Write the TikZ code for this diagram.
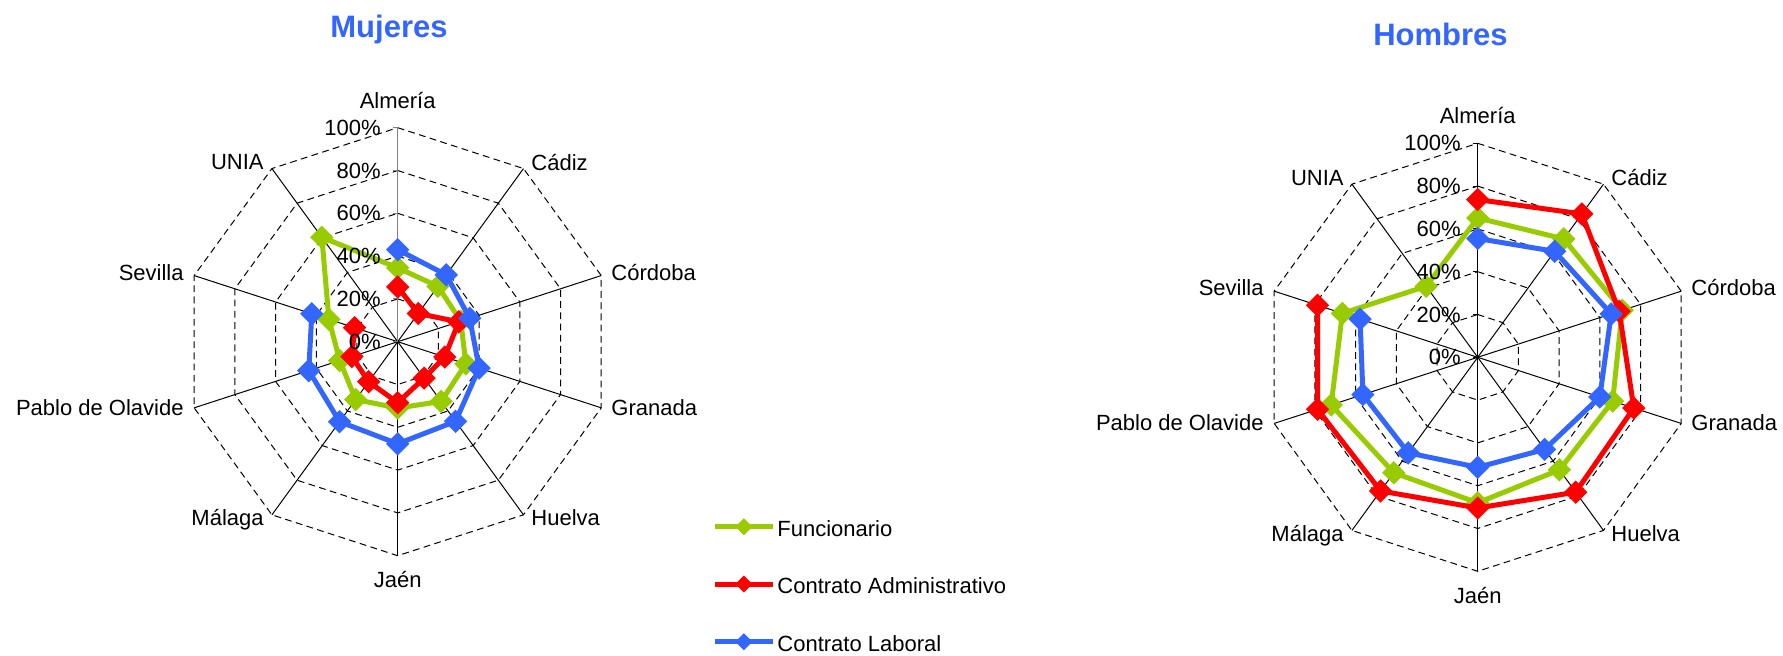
\documentclass[tikz,border=0pt]{standalone}
\usepackage{fontspec}
\setmainfont{Liberation Sans}
\usetikzlibrary{calc}
\definecolor{funcgreen}{HTML}{99CC00}
\definecolor{admred}{HTML}{FF0000}
\definecolor{labblue}{HTML}{3366FF}
\tikzset{
  % web of the radar charts
  ring/.style={black, line width=0.5pt, dash pattern=on 3.4pt off 2.2pt},
  spoke/.style={black, line width=0.5pt},
  valaxis/.style={line width=0.7pt},
  % series and markers
  serie/.style={line width=2.5pt, line join=round, color=#1},
  mk/.style={fill=#1, draw=#1, line width=0.9pt},
  diammark/.pic={\filldraw[pic actions] (5.2pt,0) -- (0,5.2pt) -- (-5.2pt,0) -- (0,-5.2pt) -- cycle;},
  smalldiam/.pic={\filldraw[pic actions] (3.6pt,0) -- (0,3.6pt) -- (-3.6pt,0) -- (0,-3.6pt) -- cycle;},
  catlabel/.style={inner sep=0pt, font=\fontsize{11}{13}\selectfont},
  pctlabel/.style={inner sep=0pt, anchor=east, font=\fontsize{11}{13}\selectfont},
  charttitle/.style={inner sep=0pt, anchor=base, text=labblue, font=\fontsize{15.5}{18}\selectfont\bfseries},
}
% grid, spokes and category names, #1 = colour of the value axis
\newcommand{\radarweb}[1]{%
  \foreach \r in {42.8,85.6,128.4,171.2,214}
    \draw[ring] (90:\r) \foreach \k in {1,...,9}{ -- ({90-36*\k}:\r)} -- cycle;
  \foreach \k in {1,...,9}
    \draw[spoke] (0,0) -- ({90-36*\k}:214);
  \draw[valaxis, #1] (0,0) -- (90:214);
  \foreach \p in {0,20,...,100}
    \draw[spoke, #1] (0,{2.14*\p}) -- ++(-5,0);
  \foreach \lab/\dx/\dy/\anc in {Almería/0/233.4/base, Cádiz/133.3/171.7/base west,
      Córdoba/213.3/61.7/base west, Granada/213.3/-73.3/base west,
      Huelva/133.3/-184/base west, Jaén/0/-246/base, Málaga/-133.7/-184/base east,
      Pablo de Olavide/-213.7/-73.3/base east, Sevilla/-213.7/61.7/base east,
      UNIA/-133.7/172/base east}
    \node[catlabel, anchor=\anc] at (\dx,\dy) {\lab};
}
% value labels of the axis
\newcommand{\radarscale}{%
  \foreach \p in {0,20,...,100}
    \node[pctlabel] at (-16.7,{2.14*\p}) {\p\%};
}
% points of one series, from Almería on
\newcommand{\radarserie}[2]{%
  \foreach \v [count=\i] in {#2}
    \coordinate (#1-\i) at ({90-36*(\i-1)}:{2.14*\v});
}

\begin{document}
\begin{tikzpicture}[x=0.5pt,y=0.5pt]
\useasboundingbox (0,0) rectangle (1783,655);

%%% Mujeres
\node[charttitle] (mtitle) at (389,617.7) {Mujeres};
\begin{scope}[shift={(397.7,313.3)}]
  \coordinate (mc) at (0,0);
  \radarweb{gray}
  \radarserie{mf}{34.5,32,31,33.5,34.5,31,33.4,28.5,33.8,60.3}
  \radarserie{ma}{25.6,16.3,30,23.1,21,28.5,23.1,22.5,21.2}
  \radarserie{ml}{43,38.6,35.4,40,46,47.7,46.2,43.7,42.2}
  \draw[serie=funcgreen] (mf-1) \foreach \i in {2,...,10}{ -- (mf-\i)} -- cycle;
  \foreach \i in {1,...,10} \pic[mk=funcgreen] at (mf-\i) {diammark};
  \draw[serie=admred] (ma-1) \foreach \i in {2,...,9}{ -- (ma-\i)};
  \foreach \i in {1,...,9} \pic[mk=admred] at (ma-\i) {diammark};
  \draw[serie=labblue] (ml-1) \foreach \i in {2,...,9}{ -- (ml-\i)};
  \foreach \i in {1,...,9} \pic[mk=labblue] at (ml-\i) {diammark};
  \radarscale
\end{scope}

%%% Hombres
\node[charttitle] (htitle) at (1440.5,610) {Hombres};
\begin{scope}[shift={(1477.7,297.7)}]
  \coordinate (hc) at (0,0);
  \radarweb{black}
  \radarserie{hf}{65.1,68.4,71,66.3,65,68,66.7,72,66.5,41}
  \radarserie{ha}{73.7,82.8,69.5,76.7,77.9,70.4,77.2,78.7,78.7}
  \radarserie{hl}{55.5,61.2,65.6,60,53.2,51.4,55.2,56.4,57.8}
  \draw[serie=funcgreen] (hf-1) \foreach \i in {2,...,10}{ -- (hf-\i)} -- cycle;
  \foreach \i in {1,...,10} \pic[mk=funcgreen] at (hf-\i) {diammark};
  \draw[serie=admred] (ha-1) \foreach \i in {2,...,9}{ -- (ha-\i)};
  \foreach \i in {1,...,9} \pic[mk=admred] at (ha-\i) {diammark};
  \draw[serie=labblue] (hl-1) \foreach \i in {2,...,9}{ -- (hl-\i)};
  \foreach \i in {1,...,9} \pic[mk=labblue] at (hl-\i) {diammark};
  \radarscale
\end{scope}

%%% legend
\foreach \nm/\col/\yy/\txt in {lgf/funcgreen/128.3/Funcionario,
    lga/admred/71/Contrato Administrativo, lgl/labblue/13.3/Contrato Laboral}{
  \node[catlabel, anchor=base west] (\nm) at (777,\yy-9.3) {\txt};
  \coordinate (\nm-a) at (715,\yy);
  \coordinate (\nm-b) at (772.7,\yy);
  \draw[serie=\col] (\nm-a) -- (\nm-b);
  \pic[mk=\col] at ($(\nm-a)!0.5!(\nm-b)$) {smalldiam};
}
\end{tikzpicture}
\end{document}
